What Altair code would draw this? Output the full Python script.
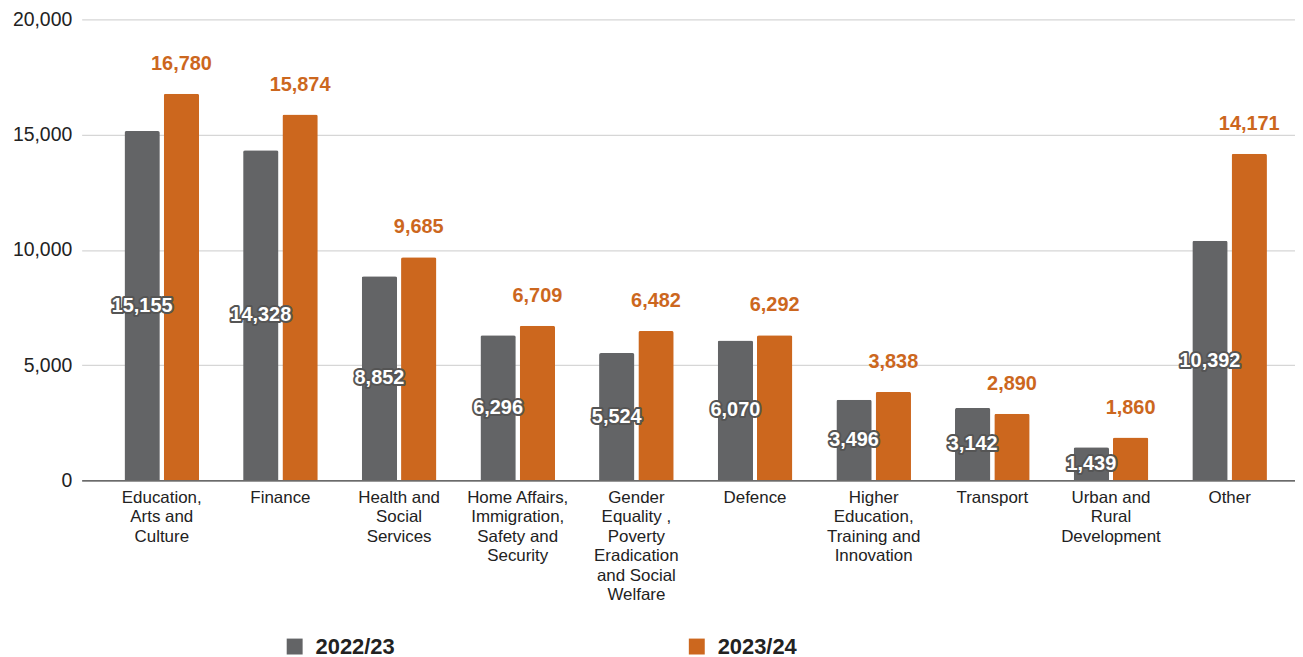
import altair as alt
import pandas as pd

categories = [
    "Education,|Arts and|Culture",
    "Finance",
    "Health and|Social|Services",
    "Home Affairs,|Immigration,|Safety and|Security",
    "Gender|Equality ,|Poverty|Eradication|and Social|Welfare",
    "Defence",
    "Higher|Education,|Training and|Innovation",
    "Transport",
    "Urban and|Rural|Development",
    "Other",
]
series = ["2022/23", "2023/24"]
values_2022_23 = [15155, 14328, 8852, 6296, 5524, 6070, 3496, 3142, 1439, 10392]
values_2023_24 = [16780, 15874, 9685, 6709, 6482, 6292, 3838, 2890, 1860, 14171]
y_ticks = [0, 5000, 10000, 15000, 20000]

GREY = "#636466"
ORANGE = "#cc671e"
FONT = "Liberation Sans"

rows = []
for c, a, b in zip(categories, values_2022_23, values_2023_24):
    rows.append({"cat": c, "series": series[0], "value": a})
    rows.append({"cat": c, "series": series[1], "value": b})
df = pd.DataFrame(rows)

# label table: grey labels sit at half the bar height, orange labels on top
grey_labels_df = pd.DataFrame({
    "cat": categories,
    "series": series[0],
    "value": [v / 2 for v in values_2022_23],
    "label": [f"{v:,}" for v in values_2022_23],
})
orange_labels_df = pd.DataFrame({
    "cat": categories,
    "series": series[1],
    "value": values_2023_24,
    "label": [f"{v:,}" for v in values_2023_24],
})

x_scale = alt.Scale(paddingInner=0.371, paddingOuter=0.2987, align=0.604)
off_scale = alt.Scale(paddingInner=0.1, paddingOuter=0)
y_scale = alt.Scale(domain=[0, 20000], nice=False)

x_enc = alt.X(
    "cat:N",
    sort=categories,
    scale=x_scale,
    axis=alt.Axis(
        title=None,
        labelAngle=0,
        labelExpr="split(datum.label, '|')",
        labelFontSize=17,
        labelLineHeight=19.6,
        labelColor="#222222",
        labelFont=FONT,
        labelPadding=9,
        labelBaseline="top",
        ticks=False,
        domain=True,
        domainColor="#444444",
        domainWidth=1.2,
        grid=False,
        labelLimit=300,
    ),
)
xoff = alt.XOffset("series:N", sort=series, scale=off_scale)

y_enc = alt.Y(
    "value:Q",
    scale=y_scale,
    axis=alt.Axis(
        title=None,
        values=y_ticks,
        format=",.0f",
        labelFontSize=19.5,
        labelColor="#222222",
        labelFont=FONT,
        labelPadding=10,
        ticks=False,
        domain=False,
        gridColor="#d6d6d6",
        gridWidth=1.2,
    ),
)

bars = alt.Chart(df).mark_bar(cornerRadiusTopLeft=2, cornerRadiusTopRight=2).encode(
    x=x_enc,
    xOffset=xoff,
    y=y_enc,
    color=alt.Color(
        "series:N",
        sort=series,
        scale=alt.Scale(domain=series, range=[GREY, ORANGE]),
        legend=alt.Legend(
            title=None,
            orient="none",
            legendX=203,
            legendY=619,
            direction="horizontal",
            symbolType="square",
            symbolSize=256,
            symbolStrokeWidth=0,
            symbolOpacity=1,
            labelFontSize=22,
            labelFontWeight="bold",
            labelColor="#222222",
            labelFont=FONT,
            labelOffset=10,
            columnPadding=292,
        ),
    ),
)

x_plain = alt.X("cat:N", sort=categories, scale=x_scale)
off_plain = alt.XOffset("series:N", sort=series, scale=off_scale)
y_plain = alt.Y("value:Q", scale=y_scale)

grey_outline = alt.Chart(grey_labels_df).mark_text(
    font=FONT, fontSize=20, fontWeight="bold", baseline="middle", align="center",
    fill="white", stroke="#555555", strokeWidth=4, strokeJoin="round",
).encode(x=x_plain, xOffset=off_plain, y=y_plain, text="label:N")

grey_fill = alt.Chart(grey_labels_df).mark_text(
    font=FONT, fontSize=20, fontWeight="bold", baseline="middle", align="center",
    fill="white",
).encode(x=x_plain, xOffset=off_plain, y=y_plain, text="label:N")

orange_labels = alt.Chart(orange_labels_df).mark_text(
    font=FONT, fontSize=20, fontWeight="bold", baseline="middle", align="center",
    color=ORANGE, dy=-30,
).encode(x=x_plain, xOffset=off_plain, y=y_plain, text="label:N")

chart = (
    alt.layer(bars, grey_outline, grey_fill, orange_labels)
    .properties(
        width=1219,
        height=463,
        padding={"left": 74, "top": 10, "right": 0, "bottom": 179},
        autosize=alt.AutoSizeParams(type="none"),
    )
    .configure_view(stroke=None)
)

chart.save("out.html", embed_options={"renderer": "svg", "actions": False})
